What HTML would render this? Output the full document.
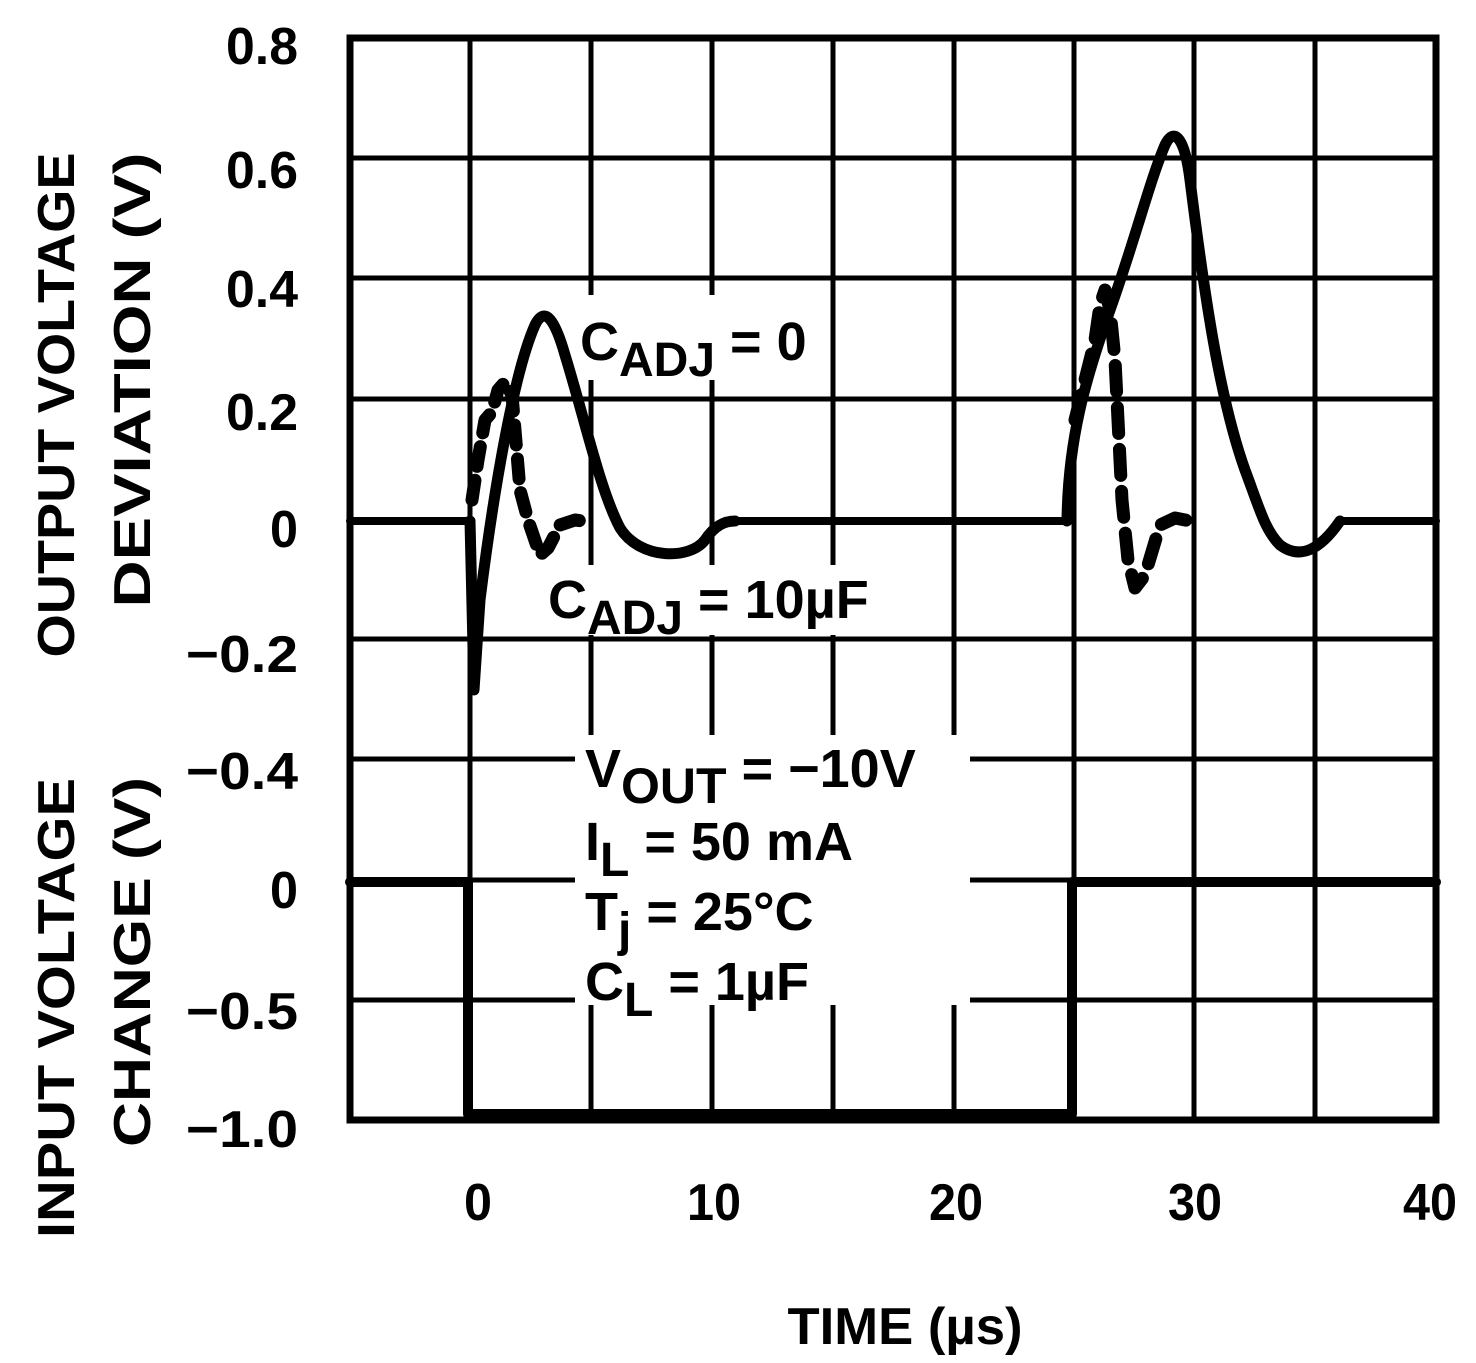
<!DOCTYPE html>
<html><head><style>html,body{margin:0;padding:0;background:#fff}svg{display:block}</style></head>
<body>
<svg width="1476" height="1363" viewBox="0 0 1476 1363" xmlns="http://www.w3.org/2000/svg" font-family="Liberation Sans, sans-serif" font-weight="bold">
<rect width="1476" height="1363" fill="#fff"/>
<g stroke="#000" stroke-width="5" fill="none">
<line x1="470" y1="38" x2="470" y2="1120"/>
<line x1="591" y1="38" x2="591" y2="1120"/>
<line x1="712" y1="38" x2="712" y2="1120"/>
<line x1="833" y1="38" x2="833" y2="1120"/>
<line x1="954" y1="38" x2="954" y2="1120"/>
<line x1="1074" y1="38" x2="1074" y2="1120"/>
<line x1="1194" y1="38" x2="1194" y2="1120"/>
<line x1="1315" y1="38" x2="1315" y2="1120"/>
<line x1="350" y1="158" x2="1436" y2="158"/>
<line x1="350" y1="278" x2="1436" y2="278"/>
<line x1="350" y1="399" x2="1436" y2="399"/>
<line x1="350" y1="639" x2="1436" y2="639"/>
<line x1="350" y1="759" x2="1436" y2="759"/>
<line x1="350" y1="1000" x2="1436" y2="1000"/>
<line x1="350" y1="880" x2="1436" y2="880"/>
<rect x="350" y="38" width="1086" height="1082" stroke-width="7"/>
</g>
<g fill="#fff">
<rect x="575" y="295" width="250" height="85"/>
<rect x="540" y="565" width="355" height="70"/>
<rect x="575" y="735" width="395" height="265"/>
<rect x="575" y="999" width="395" height="6"/>
</g>
<g stroke="#000" fill="none" stroke-linejoin="round" stroke-linecap="round">
<path d="M350 521 H470 M735 521 H1067 M1340 521 H1436" stroke-width="8"/>
<path d="M350 882 H468 V1114 H1072 V882 H1436" stroke-width="10"/>
<path d="M470 521 L474 690 L480 600 C495 480 515 370 535 325 C545 305 555 320 565 355 C585 420 600 490 620 528 C640 560 690 560 705 540 C715 525 725 521 735 521" stroke-width="11"/>
<path d="M1067 521 C1068 440 1085 380 1110 310 C1135 240 1150 180 1165 145 C1175 125 1185 140 1190 180 C1205 300 1220 400 1245 470 C1260 510 1265 530 1280 545 C1300 560 1320 550 1340 521" stroke-width="11"/>
<path d="M472 500 L478 460 L485 420 L492 412 L498 390 L505 382 L512 395 L515 430 L520 490 L528 520 L540 555 L548 548 L560 525 L575 520 L590 522" stroke-width="13" stroke-dasharray="20 14"/>
<path d="M1075 420 L1085 380 L1095 340 L1100 305 L1105 290 L1110 310 L1115 360 L1118 420 L1122 500 L1128 560 L1135 588 L1145 575 L1160 525 L1175 518 L1190 521" stroke-width="13" stroke-dasharray="26 16"/>
</g>
<g font-size="52" text-anchor="end" fill="#000">
<text x="298" y="64" textLength="72" lengthAdjust="spacingAndGlyphs">0.8</text>
<text x="298" y="188" textLength="72" lengthAdjust="spacingAndGlyphs">0.6</text>
<text x="298" y="307" textLength="72" lengthAdjust="spacingAndGlyphs">0.4</text>
<text x="298" y="430" textLength="72" lengthAdjust="spacingAndGlyphs">0.2</text>
<text x="298" y="547" textLength="28" lengthAdjust="spacingAndGlyphs">0</text>
<text x="298" y="672" textLength="112" lengthAdjust="spacingAndGlyphs">−0.2</text>
<text x="298" y="789" textLength="112" lengthAdjust="spacingAndGlyphs">−0.4</text>
<text x="298" y="908" textLength="28" lengthAdjust="spacingAndGlyphs">0</text>
<text x="298" y="1029" textLength="112" lengthAdjust="spacingAndGlyphs">−0.5</text>
<text x="298" y="1147" textLength="112" lengthAdjust="spacingAndGlyphs">−1.0</text>
</g>
<g font-size="52" text-anchor="middle" fill="#000">
<text x="478" y="1220" textLength="28" lengthAdjust="spacingAndGlyphs">0</text>
<text x="714" y="1220" textLength="54" lengthAdjust="spacingAndGlyphs">10</text>
<text x="956" y="1220" textLength="54" lengthAdjust="spacingAndGlyphs">20</text>
<text x="1195" y="1220" textLength="54" lengthAdjust="spacingAndGlyphs">30</text>
<text x="1430" y="1220" textLength="54" lengthAdjust="spacingAndGlyphs">40</text>
<text x="905" y="1344" textLength="235" lengthAdjust="spacingAndGlyphs">TIME (µs)</text>
</g>
<g font-size="52" fill="#000" text-anchor="middle">
<text transform="translate(74,405) rotate(-90)" textLength="505" lengthAdjust="spacingAndGlyphs">OUTPUT VOLTAGE</text>
<text transform="translate(150,380) rotate(-90)" textLength="455" lengthAdjust="spacingAndGlyphs">DEVIATION (V)</text>
<text transform="translate(74,1008) rotate(-90)" textLength="460" lengthAdjust="spacingAndGlyphs">INPUT VOLTAGE</text>
<text transform="translate(150,962) rotate(-90)" textLength="370" lengthAdjust="spacingAndGlyphs">CHANGE (V)</text>
</g>
<g font-size="54" fill="#000">
<text x="580" y="360">C<tspan font-size="48" dy="16">ADJ</tspan><tspan dy="-16"> = 0</tspan></text>
<text x="548" y="618">C<tspan font-size="48" dy="16">ADJ</tspan><tspan dy="-16"> = 10µF</tspan></text>
<text x="585" y="787">V<tspan font-size="50" dy="16">OUT</tspan><tspan dy="-16"> = −10V</tspan></text>
<text x="585" y="860">I<tspan font-size="48" dy="16">L</tspan><tspan dy="-16"> = 50 mA</tspan></text>
<text x="585" y="930">T<tspan font-size="48" dy="16">j</tspan><tspan dy="-16"> = 25°C</tspan></text>
<text x="585" y="1000">C<tspan font-size="48" dy="16">L</tspan><tspan dy="-16"> = 1µF</tspan></text>
</g>
</svg>
</body></html>
